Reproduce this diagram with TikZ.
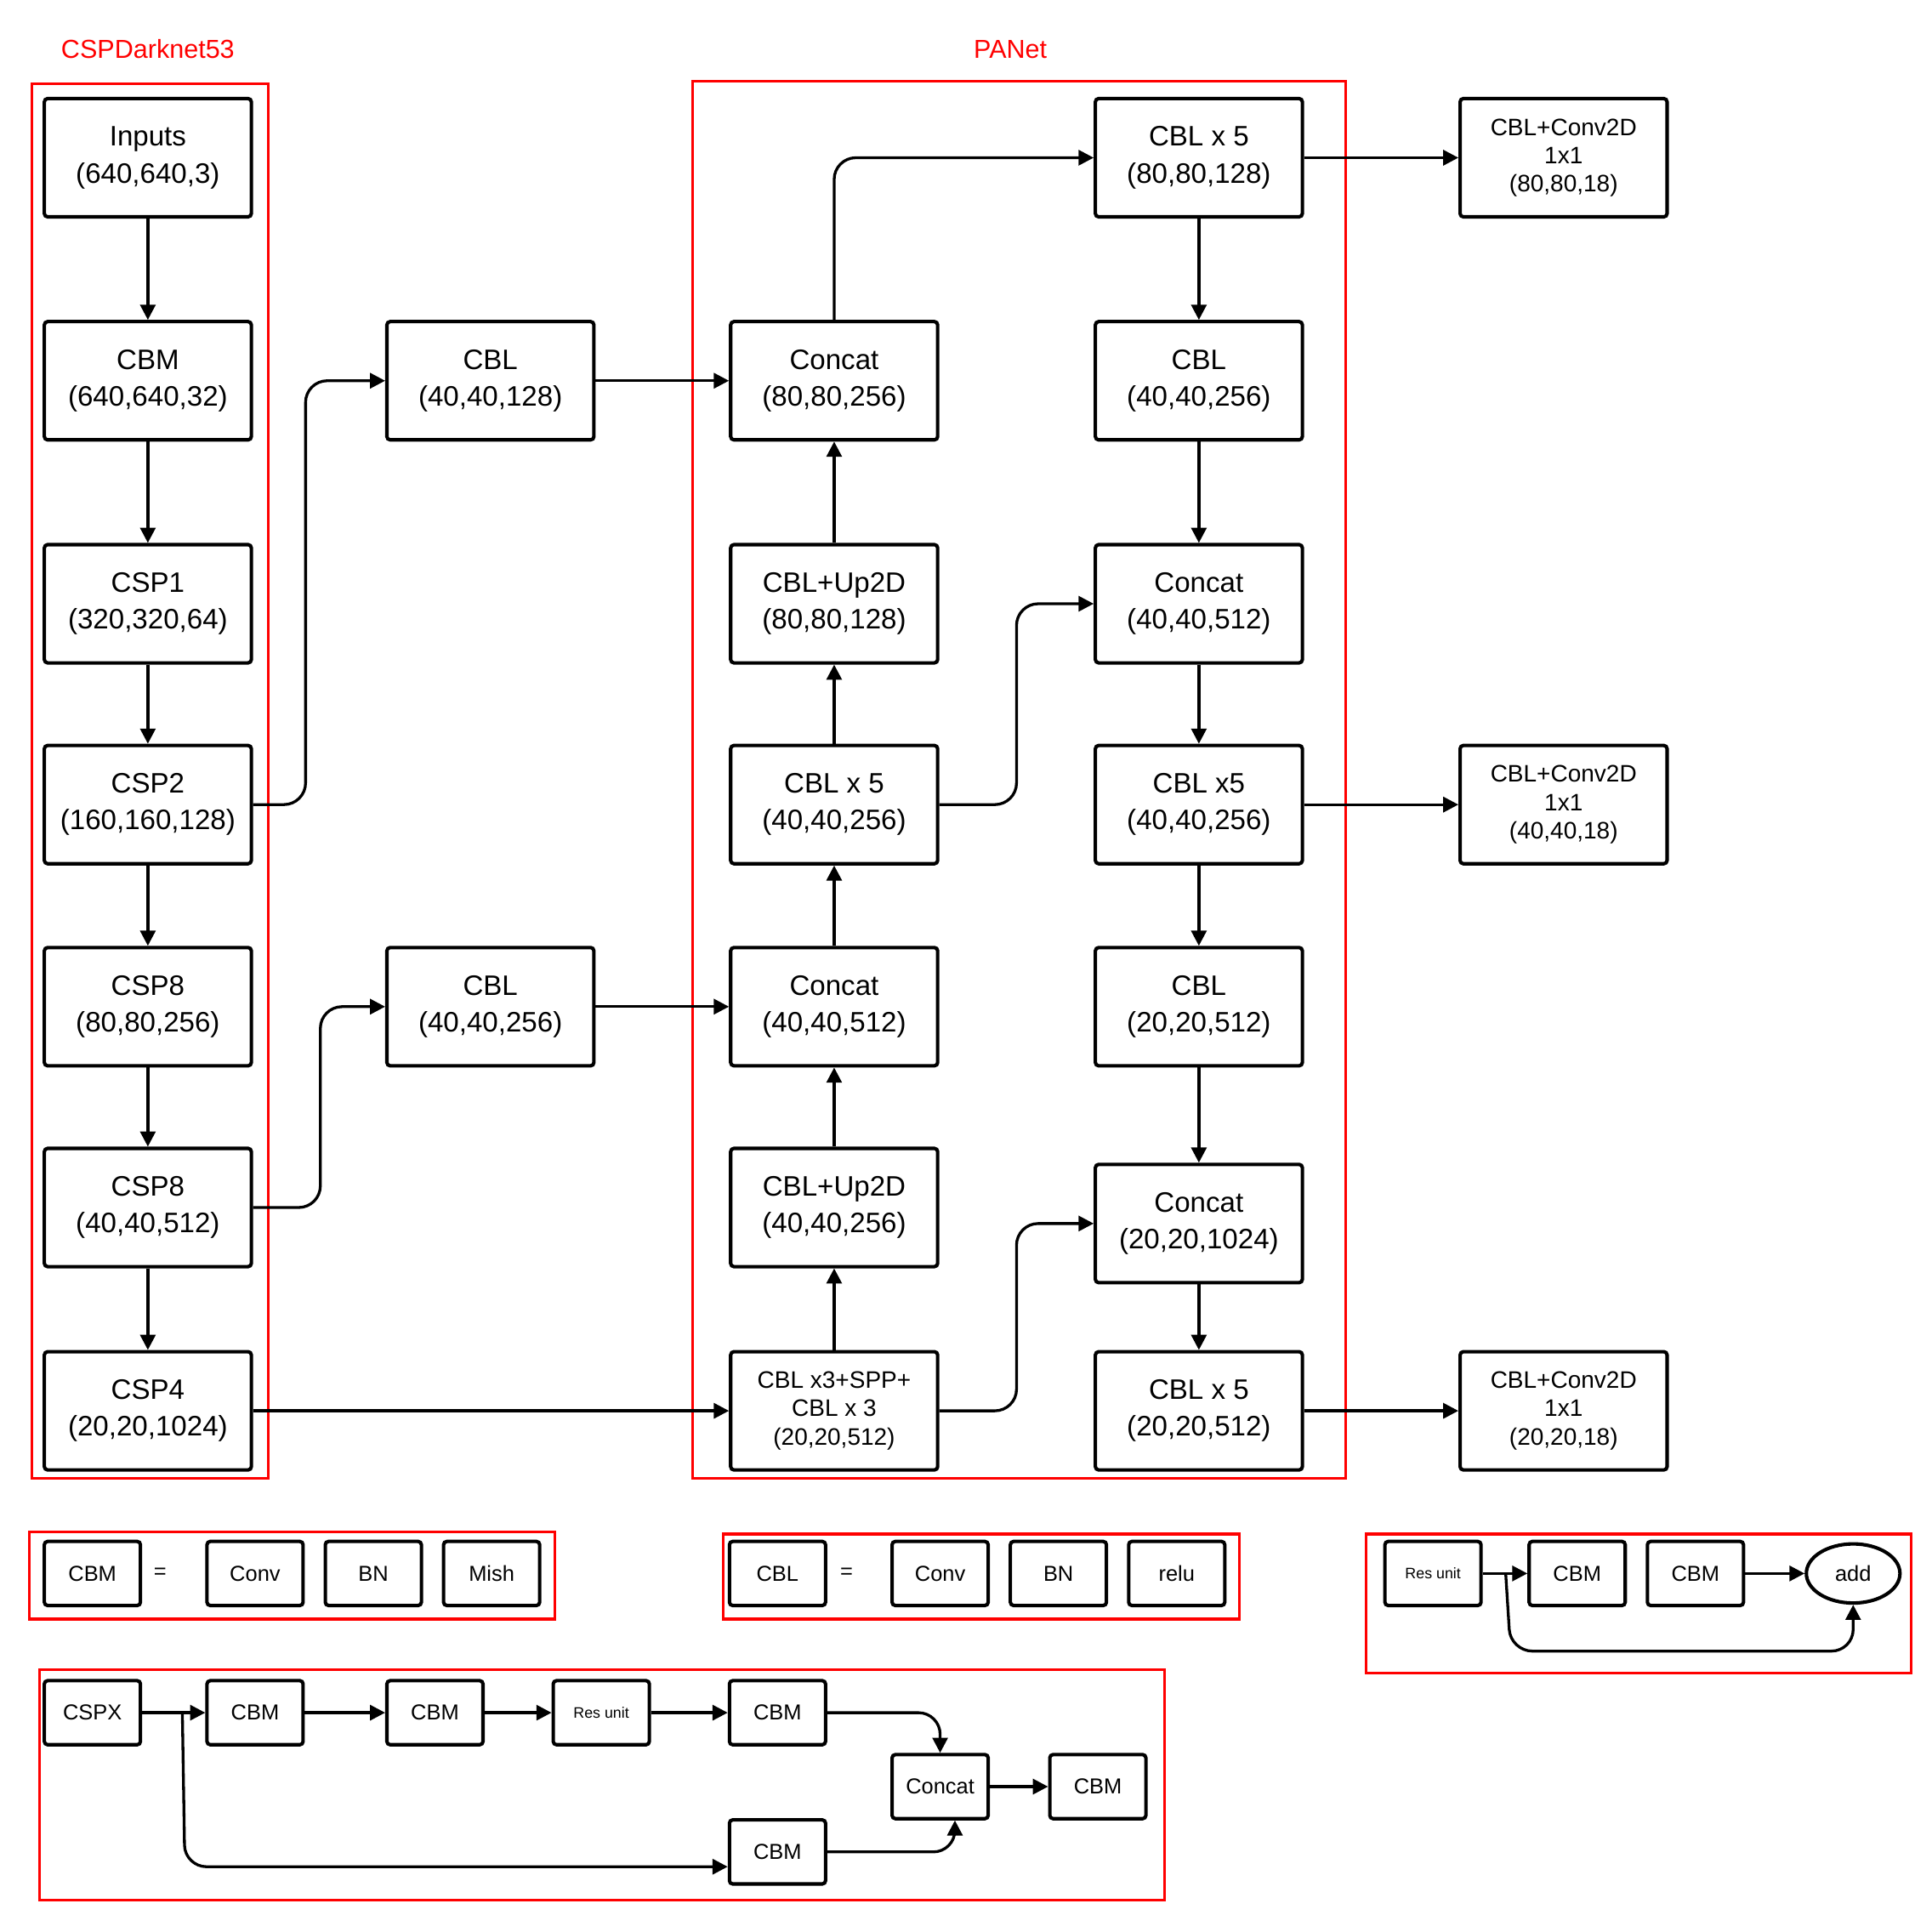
\documentclass[tikz,border=0pt]{standalone}
\usepackage{fontspec}
\setmainfont{Liberation Sans}
\usetikzlibrary{arrows.meta,shapes.geometric}
\begin{document}
\begin{tikzpicture}[x=0.02cm,y=-0.02cm,
 box/.style={draw,line width=1.6pt,rounded corners=1.5pt,minimum width=3.36cm,minimum height=1.92cm,align=center,font=\fontsize{13}{17}\selectfont},
 sbox/.style={draw,line width=1.6pt,rounded corners=1.5pt,minimum width=1.56cm,minimum height=1.04cm,align=center,font=\fontsize{10}{12}\selectfont},
 red/.style={draw=red,line width=1.2pt},
 lab/.style={text=red,font=\fontsize{12}{14}\selectfont},
 arr/.style={-{Triangle[length=7pt,width=7pt]},line width=1.3pt,rounded corners=10pt}]
\useasboundingbox (0,0) rectangle (1568,1568);
% frames
\draw[red] (26,68) rectangle (218,1200);
\draw[red] (562,66) rectangle (1092,1200);
\draw[red] (24,1243) rectangle (450,1314);
\draw[red] (587,1245) rectangle (1006,1314);
\draw[red] (1109,1245) rectangle (1551,1358);
\draw[red] (32,1355) rectangle (945,1542);
\node[lab] (l1) at (120,40) {CSPDarknet53};
\node[lab] (l2) at (820,40) {PANet};
% backbone
\node[box] (in) at (120,128) {Inputs\\(640,640,3)};
\node[box] (cbm) at (120,309) {CBM\\(640,640,32)};
\node[box] (csp1) at (120,490) {CSP1\\(320,320,64)};
\node[box] (csp2) at (120,653) {CSP2\\(160,160,128)};
\node[box] (csp8a) at (120,817) {CSP8\\(80,80,256)};
\node[box] (csp8b) at (120,980) {CSP8\\(40,40,512)};
\node[box] (csp4) at (120,1145) {CSP4\\(20,20,1024)};
\node[box] (cbla) at (398,309) {CBL\\(40,40,128)};
\node[box] (cblb) at (398,817) {CBL\\(40,40,256)};
% PANet col1
\node[box] (a1) at (677,309) {Concat\\(80,80,256)};
\node[box] (a2) at (677,490) {CBL+Up2D\\(80,80,128)};
\node[box] (a3) at (677,653) {CBL x 5\\(40,40,256)};
\node[box] (a4) at (677,817) {Concat\\(40,40,512)};
\node[box] (a5) at (677,980) {CBL+Up2D\\(40,40,256)};
\node[box,font=\fontsize{11}{13}\selectfont] (a6) at (677,1145) {CBL x3+SPP+\\CBL x 3\\(20,20,512)};
% col2
\node[box] (b1) at (973,128) {CBL x 5\\(80,80,128)};
\node[box] (b2) at (973,309) {CBL\\(40,40,256)};
\node[box] (b3) at (973,490) {Concat\\(40,40,512)};
\node[box] (b4) at (973,653) {CBL x5\\(40,40,256)};
\node[box] (b5) at (973,817) {CBL\\(20,20,512)};
\node[box] (b6) at (973,993) {Concat\\(20,20,1024)};
\node[box] (b7) at (973,1145) {CBL x 5\\(20,20,512)};
% outputs
\node[box,font=\fontsize{11}{13}\selectfont] (o1) at (1269,128) {CBL+Conv2D\\1x1\\(80,80,18)};
\node[box,font=\fontsize{11}{13}\selectfont] (o2) at (1269,653) {CBL+Conv2D\\1x1\\(40,40,18)};
\node[box,font=\fontsize{11}{13}\selectfont] (o3) at (1269,1145) {CBL+Conv2D\\1x1\\(20,20,18)};
% arrows backbone
\foreach \u/\v in {in/cbm,cbm/csp1,csp1/csp2,csp2/csp8a,csp8a/csp8b,csp8b/csp4} \draw[arr] (\u) -- (\v);
\draw[arr] (csp2.east) -- (248,653) |- (cbla.west);
\draw[arr] (csp8b.east) -- (260,980) |- (cblb.west);
\draw[arr] (cbla) -- (a1);
\draw[arr] (cblb) -- (a4);
\draw[arr] (csp4) -- (a6);
\foreach \u/\v in {a6/a5,a5/a4,a4/a3,a3/a2,a2/a1} \draw[arr] (\u) -- (\v);
\draw[arr] (a1.north) |- (b1.west);
\foreach \u/\v in {b1/b2,b2/b3,b3/b4,b4/b5,b5/b6,b6/b7} \draw[arr] (\u) -- (\v);
\draw[arr] (a3.east) -- (825,653) |- (b3.west);
\draw[arr] (a6.east) -- (825,1145) |- (b6.west);
\draw[arr] (b1) -- (o1);
\draw[arr] (b4) -- (o2);
\draw[arr] (b7) -- (o3);
% legend 1
\node[sbox] (m0) at (75,1277) {CBM};
\node[font=\fontsize{10}{12}\selectfont] (m1) at (130,1277) {=};
\node[sbox] (m2) at (207,1277) {Conv};
\node[sbox] (m3) at (303,1277) {BN};
\node[sbox] (m4) at (399,1277) {Mish};
% legend 2
\node[sbox] (n0) at (631,1277) {CBL};
\node[font=\fontsize{10}{12}\selectfont] (n1) at (687,1277) {=};
\node[sbox] (n2) at (763,1277) {Conv};
\node[sbox] (n3) at (859,1277) {BN};
\node[sbox] (n4) at (955,1277) {relu};
% legend 3
\node[sbox,font=\fontsize{7}{9}\selectfont] (r0) at (1163,1277) {Res unit};
\node[sbox] (r1) at (1280,1277) {CBM};
\node[sbox] (r2) at (1376,1277) {CBM};
\node[draw,ellipse,line width=1.6pt,minimum width=1.52cm,minimum height=0.96cm,inner sep=0pt,font=\fontsize{10}{12}\selectfont] (r3) at (1504,1277) {add};
\draw[arr] (r0) -- (r1);
\draw[arr] (r2) -- (r3);
\draw[arr] (1222,1277) -- (1226,1340) -| (r3.south);
% legend 4
\node[sbox] (c0) at (75,1390) {CSPX};
\node[sbox] (c1) at (207,1390) {CBM};
\node[sbox] (c2) at (353,1390) {CBM};
\node[sbox,font=\fontsize{7}{9}\selectfont] (c3) at (488,1390) {Res unit};
\node[sbox] (c4) at (631,1390) {CBM};
\node[sbox] (c5) at (763,1450) {Concat};
\node[sbox] (c6) at (891,1450) {CBM};
\node[sbox] (c7) at (631,1503) {CBM};
\draw[arr] (c0) -- (c1);
\draw[arr] (c1) -- (c2);
\draw[arr] (c2) -- (c3);
\draw[arr] (c3) -- (c4);
\draw[arr] (148,1390) -- (150,1515) -- (c7.west |- 0,1515);
\draw[arr] (c4.east) -| (c5.north);
\draw[arr] (c7.east) -| ([xshift=0.24cm]c5.south);
\draw[arr] (c5) -- (c6);
\end{tikzpicture}
\end{document}
